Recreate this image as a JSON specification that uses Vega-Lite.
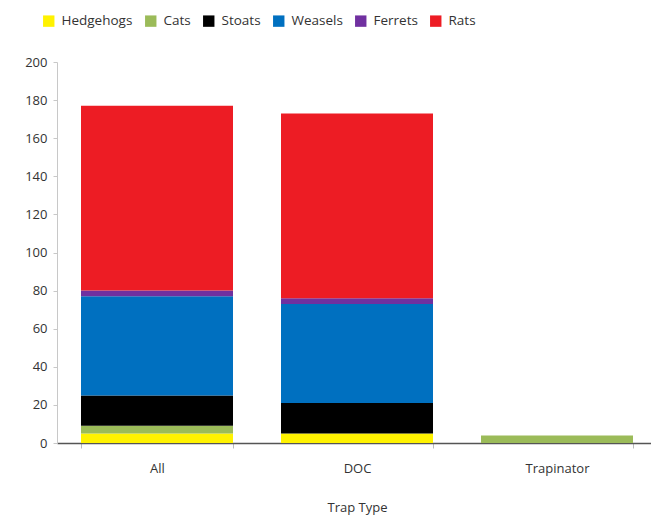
{
  "$schema": "https://vega.github.io/schema/vega-lite/v6.json",
  "width": 600,
  "height": 381,
  "autosize": {"type": "none"},
  "padding": {"left": 57, "top": 62, "right": 0, "bottom": 80},
  "background": "white",
  "config": {
    "view": {"stroke": null},
    "font": "Open Sans",
    "axis": {"labelColor": "#333333", "titleColor": "#333333", "labelFont": "Open Sans", "titleFont": "Open Sans"}
  },
  "data": {
    "values": [
      {"trap": "All", "species": "Hedgehogs", "count": 5, "ord": 1},
      {"trap": "All", "species": "Cats", "count": 4, "ord": 2},
      {"trap": "All", "species": "Stoats", "count": 16, "ord": 3},
      {"trap": "All", "species": "Weasels", "count": 52, "ord": 4},
      {"trap": "All", "species": "Ferrets", "count": 3, "ord": 5},
      {"trap": "All", "species": "Rats", "count": 97, "ord": 6},
      {"trap": "DOC", "species": "Hedgehogs", "count": 5, "ord": 1},
      {"trap": "DOC", "species": "Cats", "count": 0, "ord": 2},
      {"trap": "DOC", "species": "Stoats", "count": 16, "ord": 3},
      {"trap": "DOC", "species": "Weasels", "count": 52, "ord": 4},
      {"trap": "DOC", "species": "Ferrets", "count": 3, "ord": 5},
      {"trap": "DOC", "species": "Rats", "count": 97, "ord": 6},
      {"trap": "Trapinator", "species": "Hedgehogs", "count": 0, "ord": 1},
      {"trap": "Trapinator", "species": "Cats", "count": 4, "ord": 2},
      {"trap": "Trapinator", "species": "Stoats", "count": 0, "ord": 3},
      {"trap": "Trapinator", "species": "Weasels", "count": 0, "ord": 4},
      {"trap": "Trapinator", "species": "Ferrets", "count": 0, "ord": 5},
      {"trap": "Trapinator", "species": "Rats", "count": 0, "ord": 6}
    ]
  },
  "mark": {"type": "bar"},
  "encoding": {
    "x": {
      "field": "trap",
      "type": "nominal",
      "sort": ["All", "DOC", "Trapinator"],
      "scale": {"paddingInner": 0.24, "paddingOuter": 0.12},
      "axis": {
        "title": "Trap Type",
        "labelAngle": 0,
        "labelFontSize": 13,
        "labelPadding": 14,
        "titleFontSize": 13,
        "titleFontWeight": "normal",
        "titlePadding": 26,
        "domainColor": "#555555",
        "domainWidth": 1.5,
        "tickBand": "extent",
        "tickColor": "#bbbbbb",
        "tickSize": 5
      }
    },
    "y": {
      "field": "count",
      "type": "quantitative",
      "stack": "zero",
      "scale": {"domain": [0, 200], "nice": false},
      "axis": {
        "title": null,
        "values": [0, 20, 40, 60, 80, 100, 120, 140, 160, 180, 200],
        "grid": false,
        "labelFontSize": 13,
        "labelPadding": 6,
        "domainColor": "#c8c8c8",
        "tickColor": "#c8c8c8",
        "tickSize": 4
      }
    },
    "color": {
      "field": "species",
      "type": "nominal",
      "scale": {
        "domain": ["Hedgehogs", "Cats", "Stoats", "Weasels", "Ferrets", "Rats"],
        "range": ["#FFF200", "#9BBB59", "#000000", "#0070C0", "#7030A0", "#ED1C24"]
      },
      "legend": {
        "title": null,
        "orient": "none",
        "direction": "horizontal",
        "legendX": -15,
        "legendY": -48,
        "symbolType": "square",
        "symbolSize": 130,
        "symbolStrokeWidth": 0,
        "labelFontSize": 13.5,
        "labelColor": "#333333",
        "labelFont": "Open Sans",
        "columnPadding": 11,
        "labelOffset": 6
      }
    },
    "order": {"field": "ord", "type": "quantitative"}
  }
}
